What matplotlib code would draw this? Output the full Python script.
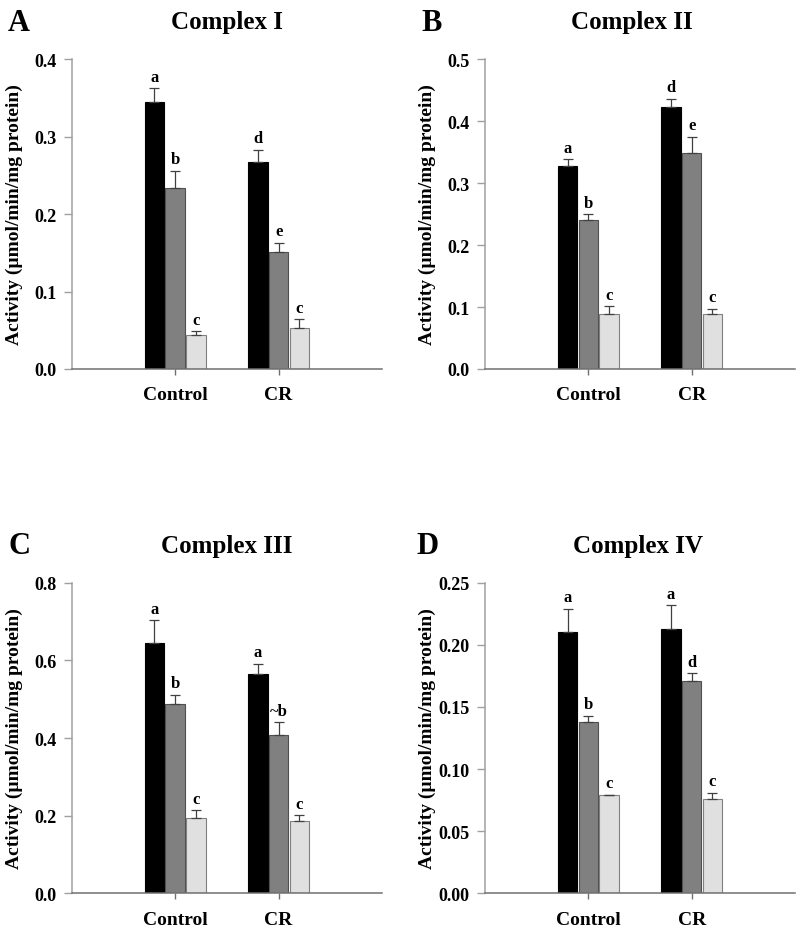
import numpy as np
import matplotlib
matplotlib.use("Agg")
import matplotlib.pyplot as plt
from matplotlib.ticker import FormatStrFormatter

plt.rcParams["font.family"] = ["Liberation Serif", "DejaVu Serif"]
plt.rcParams["font.weight"] = "bold"

groups = ["Control", "CR"]
titles = ["Complex I", "Complex II", "Complex III", "Complex IV"]
panel_letters = ["A", "B", "C", "D"]

# values per panel: [series][group]
vals_A = [[0.344, 0.267], [0.234, 0.151], [0.044, 0.053]]
errs_A = [[0.018, 0.016], [0.022, 0.012], [0.005, 0.011]]
labs_A = [["a", "d"], ["b", "e"], ["c", "c"]]

vals_B = [[0.327, 0.423], [0.240, 0.348], [0.089, 0.089]]
errs_B = [[0.011, 0.013], [0.010, 0.027], [0.012, 0.008]]
labs_B = [["a", "d"], ["b", "e"], ["c", "c"]]

vals_C = [[0.645, 0.565], [0.487, 0.408], [0.193, 0.185]]
errs_C = [[0.058, 0.026], [0.025, 0.032], [0.021, 0.016]]
labs_C = [["a", "a"], ["b", "~b"], ["c", "c"]]

vals_D = [[0.210, 0.213], [0.138, 0.171], [0.079, 0.076]]
errs_D = [[0.019, 0.019], [0.005, 0.006], [0.0005, 0.005]]
labs_D = [["a", "a"], ["b", "d"], ["c", "c"]]

ylims = [0.4, 0.5, 0.8, 0.25]
ysteps = [0.1, 0.1, 0.2, 0.05]
yfmts = ["%.1f", "%.1f", "%.1f", "%.2f"]

bar_colors = ["#000000", "#808080", "#e0e0e0"]
edge_colors = ["#000000", "#505050", "#808080"]

fig = plt.figure(figsize=(8, 9.28), dpi=100)
positions = [
    [0.0896, 0.6013, 0.388, 0.334],
    [0.606, 0.6013, 0.388, 0.334],
    [0.0896, 0.0363, 0.388, 0.3347],
    [0.606, 0.0363, 0.388, 0.3347],
]
title_x = [0.5, 0.475, 0.5, 0.495]

data = [(vals_A, errs_A, labs_A), (vals_B, errs_B, labs_B),
        (vals_C, errs_C, labs_C), (vals_D, errs_D, labs_D)]

x = np.arange(1, len(groups) + 1)
width = 0.187
offsets = [-0.2, 0.0, 0.2]

for i, (vals, errs, labs) in enumerate(data):
    ax = fig.add_axes(positions[i])
    for s in range(3):
        xs = x + offsets[s]
        ax.bar(xs, vals[s], width, color=bar_colors[s], edgecolor=edge_colors[s],
               linewidth=0.8, zorder=2)
        ax.errorbar(xs, vals[s], yerr=[np.zeros(len(groups)), errs[s]], fmt="none",
                    ecolor="#404040", elinewidth=0.9, capsize=3.6, capthick=0.9, zorder=3)
        for g in range(len(groups)):
            ax.annotate(labs[s][g], (xs[g], vals[s][g] + errs[s][g]),
                        xytext=(0, 2.5), textcoords="offset points",
                        ha="center", va="bottom", fontsize=12, fontweight="bold")

    ax.set_xlim(0, 3)
    ax.set_ylim(0, ylims[i])
    ax.set_yticks(np.arange(0, ylims[i] + ysteps[i] / 2, ysteps[i]))
    ax.yaxis.set_major_formatter(FormatStrFormatter(yfmts[i]))
    ax.set_xticks(x)
    ax.set_xticklabels(groups, fontsize=14, fontweight="bold")
    ax.tick_params(axis="y", labelsize=13, length=6, width=1, color="#a0a0a0", pad=5)
    ax.tick_params(axis="x", length=4.5, width=1, color="#707070", pad=8)
    for lab in ax.get_yticklabels():
        lab.set_fontweight("bold")

    ax.spines["top"].set_visible(False)
    ax.spines["right"].set_visible(False)
    ax.spines["left"].set_color("#a0a0a0")
    ax.spines["bottom"].set_color("#707070")
    ax.spines["left"].set_linewidth(1.1)
    ax.spines["bottom"].set_linewidth(1.1)

    ax.text(-0.185, 0.5, "Activity (\u00b5mol/min/mg protein)", transform=ax.transAxes,
            rotation=90, ha="center", va="center", fontsize=14, fontweight="bold")
    ax.text(title_x[i], 1.10, titles[i], transform=ax.transAxes,
            ha="center", va="baseline", fontsize=18, fontweight="bold")
    letter_x = [-0.205, -0.205, -0.205, -0.22][i]
    ax.text(letter_x, 1.095, panel_letters[i], transform=ax.transAxes,
            ha="left", va="baseline", fontsize=22, fontweight="bold")

fig.savefig("out.png", dpi=100)
